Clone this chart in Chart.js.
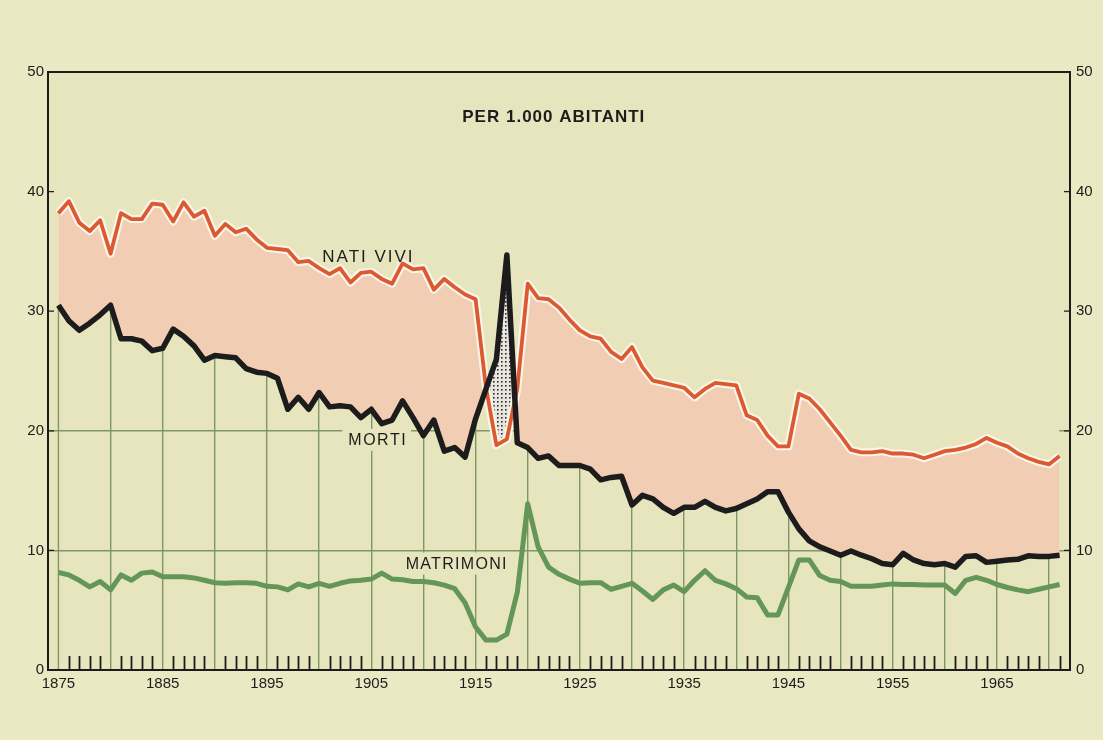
<!DOCTYPE html>
<html>
<head>
<meta charset="utf-8">
<script src="https://cdn.jsdelivr.net/npm/chart.js@4.4.0/dist/chart.umd.min.js"></script>
<style>
  html, body { margin: 0; padding: 0; background: #ebe8c4; }
  canvas { display: block; }
</style>
</head>
<body>
<canvas id="chart" width="1103" height="740"></canvas>
<script>
// Italia 1875-1971, per 1.000 abitanti
const YEARS = [
  1875, 1876, 1877, 1878, 1879, 1880, 1881, 1882, 1883, 1884,
  1885, 1886, 1887, 1888, 1889, 1890, 1891, 1892, 1893, 1894,
  1895, 1896, 1897, 1898, 1899, 1900, 1901, 1902, 1903, 1904,
  1905, 1906, 1907, 1908, 1909, 1910, 1911, 1912, 1913, 1914,
  1915, 1916, 1917, 1918, 1919, 1920, 1921, 1922, 1923, 1924,
  1925, 1926, 1927, 1928, 1929, 1930, 1931, 1932, 1933, 1934,
  1935, 1936, 1937, 1938, 1939, 1940, 1941, 1942, 1943, 1944,
  1945, 1946, 1947, 1948, 1949, 1950, 1951, 1952, 1953, 1954,
  1955, 1956, 1957, 1958, 1959, 1960, 1961, 1962, 1963, 1964,
  1965, 1966, 1967, 1968, 1969, 1970, 1971,
];

const NATI_VIVI = [
  38.2, 39.2, 37.4, 36.7, 37.6, 34.8, 38.2, 37.7, 37.7, 39.0,
  38.9, 37.5, 39.1, 37.9, 38.4, 36.3, 37.3, 36.6, 36.9, 36.0,
  35.3, 35.2, 35.1, 34.1, 34.2, 33.6, 33.1, 33.6, 32.4, 33.2,
  33.3, 32.7, 32.3, 34.0, 33.5, 33.6, 31.8, 32.7, 32.0, 31.4,
  31.0, 23.6, 18.8, 19.3, 23.5, 32.3, 31.1, 31.0, 30.3, 29.3,
  28.4, 27.9, 27.7, 26.6, 26.0, 27.0, 25.3, 24.2, 24.0, 23.8,
  23.6, 22.8, 23.5, 24.0, 23.9, 23.8, 21.3, 20.9, 19.6, 18.7,
  18.7, 23.1, 22.7, 21.8, 20.7, 19.6, 18.4, 18.2, 18.2, 18.3,
  18.1, 18.1, 18.0, 17.7, 18.0, 18.3, 18.4, 18.6, 18.9, 19.4,
  19.0, 18.7, 18.1, 17.7, 17.4, 17.2, 17.9,
];

const MORTI = [
  30.5, 29.2, 28.4, 29.0, 29.7, 30.5, 27.7, 27.7, 27.5, 26.7,
  26.9, 28.5, 27.9, 27.1, 25.9, 26.3, 26.2, 26.1, 25.2, 24.9,
  24.8, 24.4, 21.8, 22.8, 21.8, 23.2, 22.0, 22.1, 22.0, 21.1,
  21.8, 20.6, 20.9, 22.5, 21.1, 19.6, 20.9, 18.3, 18.6, 17.8,
  21.0, 23.5, 26.0, 34.7, 19.0, 18.6, 17.7, 17.9, 17.1, 17.1,
  17.1, 16.8, 15.9, 16.1, 16.2, 13.8, 14.6, 14.3, 13.6, 13.1,
  13.6, 13.6, 14.1, 13.6, 13.3, 13.5, 13.9, 14.3, 14.9, 14.9,
  13.2, 11.8, 10.8, 10.3, 9.95, 9.6, 9.95, 9.6, 9.3, 8.9,
  8.8, 9.75, 9.2, 8.9, 8.8, 8.9, 8.6, 9.5, 9.55, 9.0,
  9.1, 9.2, 9.25, 9.55, 9.5, 9.5, 9.6,
];

const MATRIMONI = [
  8.15, 7.95, 7.5, 6.95, 7.4, 6.7, 7.95, 7.5, 8.1, 8.2,
  7.8, 7.8, 7.8, 7.7, 7.5, 7.3, 7.25, 7.3, 7.3, 7.25,
  7.0, 6.95, 6.7, 7.2, 6.95, 7.25, 7.0, 7.25, 7.45, 7.5,
  7.6, 8.1, 7.6, 7.55, 7.4, 7.4, 7.3, 7.1, 6.8, 5.6,
  3.6, 2.5, 2.5, 3.0, 6.5, 13.9, 10.3, 8.6, 8.0, 7.6,
  7.25, 7.3, 7.3, 6.75, 7.0, 7.25, 6.6, 5.9, 6.7, 7.1,
  6.55, 7.5, 8.3, 7.5, 7.2, 6.8, 6.1, 6.05, 4.6, 4.6,
  6.9, 9.2, 9.2, 7.9, 7.5, 7.4, 7.0, 7.0, 7.0, 7.1,
  7.2, 7.15, 7.15, 7.1, 7.1, 7.1, 6.4, 7.5, 7.75, 7.5,
  7.15, 6.9, 6.7, 6.55, 6.75, 6.95, 7.15,
];

const X_LABELS = [1875, 1885, 1895, 1905, 1915, 1925, 1935, 1945, 1955, 1965];
const Y_LABELS = [0, 10, 20, 30, 40, 50];

const PAGE_BG = "#ebe8c4";
const PLOT_BG = "#e7e5be";
const PINK = "#f0cdb3";
const RED = "#dc5a32";
const GREEN = "#639657";
const GRID = "#7f9767";
const INK = "#1c1c1c";

function series(values) {
  return YEARS.map((year, i) => ({ x: year, y: values[i] }));
}

function dotPattern() {
  const c = document.createElement("canvas");
  c.width = 4;
  c.height = 4;
  const g = c.getContext("2d");
  g.fillStyle = "#e9e6df";
  g.fillRect(0, 0, 4, 4);
  g.fillStyle = "#2e2e2e";
  g.fillRect(1, 1, 1.6, 1.6);
  return g.createPattern(c, "repeat");
}

const lineBase = {
  pointRadius: 0,
  tension: 0,
  fill: false,
  borderJoinStyle: "round",
  borderCapStyle: "butt",
  yAxisID: "y",
};

// labels placed in data units, converted through the scales
const TEXTS = [
  { text: "NATI VIVI", x: 1900.3, y: 34.6, size: 17, spacing: 2, box: false },
  { text: "MORTI", x: 1902.8, y: 19.25, size: 16, spacing: 1.5, box: true },
  { text: "MATRIMONI", x: 1908.3, y: 8.9, size: 16, spacing: 1.3, box: true },
];

const decor = {
  id: "decor",
  beforeDraw(chart) {
    const { ctx, chartArea: a } = chart;
    ctx.save();
    ctx.fillStyle = PAGE_BG;
    ctx.fillRect(0, 0, chart.width, chart.height);
    ctx.fillStyle = PLOT_BG;
    ctx.fillRect(a.left, a.top, a.right - a.left, a.bottom - a.top);
    ctx.restore();
  },
  beforeDatasetsDraw(chart) {
    // first grid line only runs up to the first death rate
    const { ctx, chartArea: a, scales } = chart;
    const px = scales.x.getPixelForValue(YEARS[0]);
    ctx.save();
    ctx.strokeStyle = GRID;
    ctx.lineWidth = 1.4;
    ctx.beginPath();
    ctx.moveTo(px, a.bottom);
    ctx.lineTo(px, scales.y.getPixelForValue(MORTI[0]));
    ctx.stroke();
    ctx.restore();
  },
  afterDatasetsDraw(chart) {
    const { ctx, chartArea: a, scales } = chart;
    const xs = scales.x;
    const ys = scales.y;
    ctx.save();

    // yearly ticks pointing up from the base line
    ctx.strokeStyle = INK;
    ctx.lineWidth = 1.8;
    YEARS.forEach((year) => {
      if (year % 5 === 0) return;
      const px = Math.round(xs.getPixelForValue(year)) + 0.5;
      ctx.beginPath();
      ctx.moveTo(px, a.bottom);
      ctx.lineTo(px, a.bottom - 14);
      ctx.stroke();
    });

    // short inner ticks on both value axes
    ctx.lineWidth = 1.2;
    Y_LABELS.forEach((v) => {
      if (v === 0 || v === 50) return;
      const py = ys.getPixelForValue(v);
      ctx.beginPath();
      ctx.moveTo(a.left, py);
      ctx.lineTo(a.left + 6, py);
      ctx.moveTo(a.right, py);
      ctx.lineTo(a.right - 6, py);
      ctx.stroke();
    });

    // frame
    ctx.lineWidth = 2;
    ctx.strokeRect(a.left, a.top, a.right - a.left, a.bottom - a.top);

    // series names
    ctx.textBaseline = "middle";
    ctx.textAlign = "left";
    TEXTS.forEach((t) => {
      ctx.font = t.size + 'px "Liberation Sans", Arial, sans-serif';
      ctx.letterSpacing = t.spacing + "px";
      const px = xs.getPixelForValue(t.x);
      const py = ys.getPixelForValue(t.y);
      const w = ctx.measureText(t.text).width;
      if (t.box) {
        ctx.fillStyle = PLOT_BG;
        ctx.fillRect(px - 6, py - 11, w + 10, 22);
      }
      ctx.fillStyle = INK;
      ctx.fillText(t.text, px, py + 1);
    });

    // heading
    ctx.font = 'bold 17px "Liberation Sans", Arial, sans-serif';
    ctx.letterSpacing = "1px";
    ctx.textAlign = "center";
    ctx.fillStyle = INK;
    ctx.fillText("PER 1.000 ABITANTI", xs.getPixelForValue(1922.5), ys.getPixelForValue(46.2));
    ctx.restore();
  },
};

const tickFont = { family: '"Liberation Sans", Arial, sans-serif', size: 15 };

new Chart(document.getElementById("chart"), {
  type: "line",
  data: {
    datasets: [
      {
        ...lineBase,
        label: "Morti",
        data: series(MORTI),
        borderColor: INK,
        borderWidth: 5.5,
      },
      {
        ...lineBase,
        label: "Nati vivi",
        data: series(NATI_VIVI),
        borderColor: RED,
        borderWidth: 3.8,
      },
      {
        ...lineBase,
        label: "Nati vivi (contorno)",
        data: series(NATI_VIVI),
        borderColor: "#fbf6ea",
        borderWidth: 8,
        fill: { target: 0, above: PINK, below: dotPattern() },
      },
      {
        ...lineBase,
        label: "Matrimoni",
        data: series(MATRIMONI),
        borderColor: GREEN,
        borderWidth: 5,
      },
      {
        ...lineBase,
        label: "Morti (sfondo)",
        data: series(MORTI),
        borderWidth: 0,
        borderColor: "rgba(0,0,0,0)",
        backgroundColor: PLOT_BG,
        fill: "end",
      },
    ],
  },
  options: {
    responsive: false,
    animation: false,
    events: [],
    layout: { padding: { top: 72, left: 0, right: 0, bottom: 0 } },
    plugins: {
      legend: { display: false },
      tooltip: { enabled: false },
      filler: { drawTime: "beforeDatasetsDraw" },
    },
    scales: {
      x: {
        type: "linear",
        min: 1874,
        max: 1972,
        afterFit: (scale) => {
          scale.height = 70;
        },
        border: { display: false },
        grid: {
          drawTicks: false,
          lineWidth: 1.4,
          color: (ctx) =>
            ctx.tick && ctx.tick.value % 5 === 0 && ctx.tick.value !== YEARS[0] ? GRID : "rgba(0,0,0,0)",
        },
        ticks: {
          stepSize: 1,
          maxTicksLimit: 200,
          autoSkip: false,
          maxRotation: 0,
          padding: 5,
          color: INK,
          font: tickFont,
          callback: (value) => (X_LABELS.includes(value) ? String(value) : ""),
        },
      },
      y: {
        position: "left",
        min: 0,
        max: 50,
        afterFit: (scale) => {
          scale.width = 48;
        },
        border: { display: false },
        grid: {
          drawTicks: false,
          lineWidth: 1.4,
          color: (ctx) => (ctx.tick && (ctx.tick.value === 10 || ctx.tick.value === 20) ? GRID : "rgba(0,0,0,0)"),
        },
        ticks: {
          stepSize: 10,
          padding: 4,
          color: INK,
          font: tickFont,
        },
      },
      y2: {
        position: "right",
        min: 0,
        max: 50,
        afterFit: (scale) => {
          scale.width = 33;
        },
        border: { display: false },
        grid: { display: false, drawTicks: false },
        ticks: {
          stepSize: 10,
          padding: 6,
          color: INK,
          font: tickFont,
        },
      },
    },
  },
  plugins: [decor],
});
</script>
</body>
</html>
